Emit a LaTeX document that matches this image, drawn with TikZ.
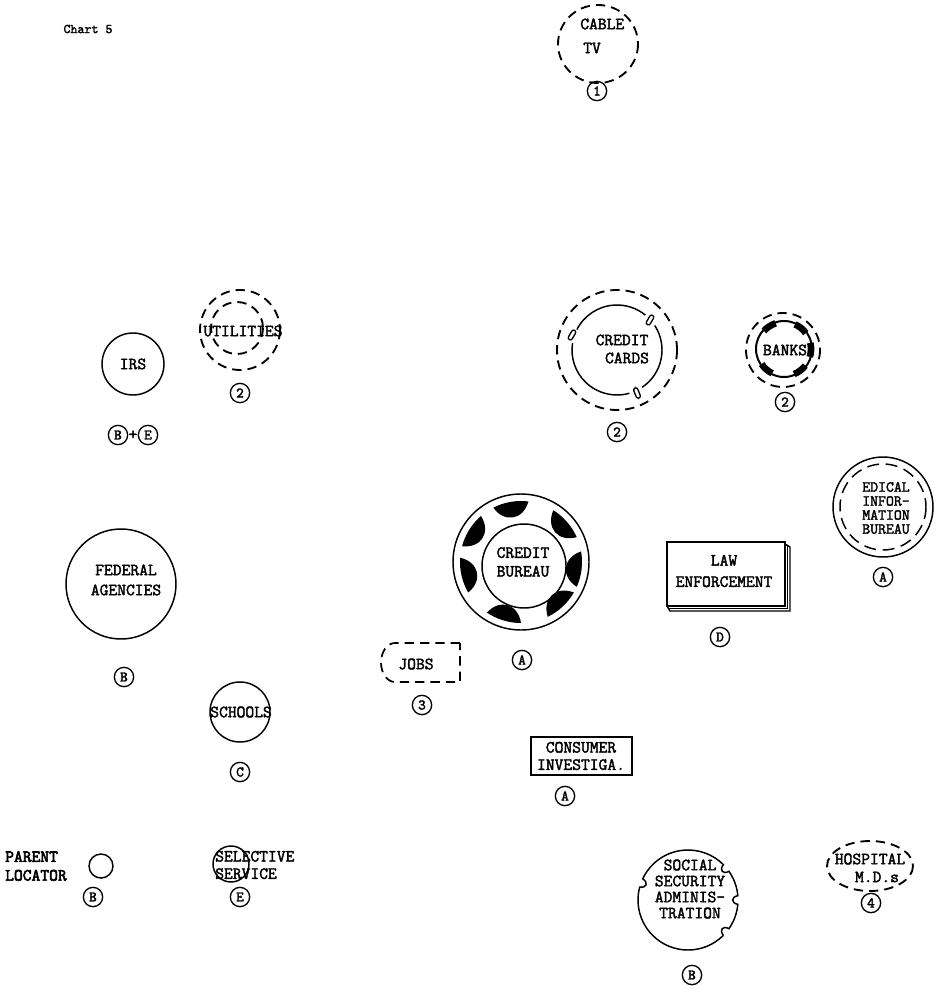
\documentclass[tikz,border=0pt]{standalone}
\usepackage{fontspec}
\newfontfamily\tw{Latin Modern Mono}[BoldFont={Latin Modern Mono}, BoldFeatures={FakeBold=2.2}]
\newfontfamily\twh{Latin Modern Mono}[BoldFont={Latin Modern Mono}, BoldFeatures={FakeBold=3.5}]
\begin{document}
\begin{tikzpicture}[x=0.75pt,y=-0.75pt,
  lbl/.style={font=\tw\bfseries\fontsize{12.8}{13}\selectfont, align=center, inner sep=0pt},
  small/.style={font=\tw\bfseries\fontsize{11.5}{10.5}\selectfont, align=center, inner sep=0pt},
  tag/.style={circle, draw, line width=1pt, minimum size=14.5pt, inner sep=0pt, font=\tw\bfseries\fontsize{11}{11}\selectfont},
  ring/.style={line width=1.1pt},
  dring/.style={line width=1.4pt, dash pattern=on 7pt off 4.5pt},
  pill/.style={draw, line width=1pt, rounded corners=1.6pt, minimum width=8pt, minimum height=3.2pt, inner sep=0pt},
]
\useasboundingbox (0,0) rectangle (937,998);
\fill[white] (0,0) rectangle (937,998);

% Chart title
\node[font=\tw\bfseries\fontsize{10}{10}\selectfont, inner sep=0pt] (chart) at (88,29) {Chart 5};

% Cable TV
\draw[dring] (598,44) ellipse [x radius=40, y radius=39];
\node[lbl, anchor=west] (cable) at (580,24) {CABLE};
\node[lbl, anchor=west] (tv) at (583,48) {TV};
\node[tag] (t1) at (597,91) {1};

% Utilities
\draw[dring] (240,330) circle [radius=40];
\draw[dring] (237,328) circle [radius=26];
\node[lbl] (util) at (243,331) {UTILITIES};
\node[tag] (t2a) at (240,393) {2};

% IRS
\draw[ring] (133,364) circle [radius=31];
\node[lbl] (irs) at (133,364) {IRS};
\node[tag] (tb1) at (118,435) {B};
\node[lbl] (plus) at (133,435) {+};
\node[tag] (te1) at (148,435) {E};

% Federal agencies
\draw[ring] (121,584) circle [radius=55];
\node[lbl] (fed) at (126,580) {FEDERAL\\[2pt]AGENCIES};
\node[tag] (tb2) at (124,677) {B};

% Schools
\draw[ring] (240,712) circle [radius=30];
\node[lbl] (schools) at (241,712) {SCHOOLS};
\node[tag] (tc) at (240,772) {C};

% Parent locator
\node[lbl, anchor=east, align=left, font=\twh\bfseries\fontsize{12.8}{14}\selectfont] (parent) at (67,866) {PARENT\\LOCATOR};
\draw[ring] (101,866) circle [radius=12];
\node[tag] (tb3) at (93,897) {B};

% Selective service
\draw[ring] (231,864) circle [radius=18];
\node[lbl, anchor=west, align=left] (sel) at (215,865) {SELECTIVE\\SERVICE};
\node[tag] (te2) at (240,897) {E};

% Credit cards
\draw[dring] (617,350) circle [radius=60];
\draw[ring] (617,350) ++(74:45) arc[start angle=74, end angle=189, radius=45];
\draw[ring] (617,350) ++(207:45) arc[start angle=207, end angle=309, radius=45];
\draw[ring] (617,350) ++(327:45) arc[start angle=327, end angle=416, radius=45];
\node[pill, rotate=60] (p1) at (572,335) {};
\node[pill, rotate=60] (p2) at (650,320) {};
\node[pill, rotate=-68] (p3) at (637,393) {};
\node[lbl] (cc1) at (622,340) {CREDIT};
\node[lbl] (cc2) at (627,358) {CARDS};
\node[tag] (t2b) at (617,432) {2};

% Banks
\draw[dring] (783,350) circle [radius=37];
\draw[line width=1.5pt] (784,349) circle [radius=28];
\foreach \a in {-123,-51,53,131,2} {
  \draw[line width=5pt] (784,349) ++(\a-15:27) arc[start angle=\a-15, end angle=\a+15, radius=27];
}
\node[lbl] (banks) at (785,350) {BANKS};
\node[tag] (t2c) at (785,402) {2};

% Medical Information Bureau
\draw[ring] (883,507) circle [radius=50];
\draw[line width=1.1pt, dash pattern=on 9pt off 5pt] (883,507) circle [radius=43];
\node[small] (mib) at (886,508) {EDICAL\\INFOR-\\MATION\\BUREAU};
\node[tag] (ta1) at (883,577) {A};

% Credit bureau
\draw[ring] (521,562) circle [radius=68];
\draw[ring] (524,566) circle [radius=42];
\begin{scope}[shift={(521,562)}]
  \foreach \a in {-100,-148,-193,-253,-313,-353,-41} {
    \fill (\a-17:61) arc[start angle=\a-17, end angle=\a+17, radius=61]
      .. controls (\a+13:42) and (\a-13:42) .. cycle;
  }
\end{scope}
\node[lbl] (cb) at (523,562) {CREDIT\\[1pt]BUREAU};
\node[tag] (ta2) at (522,660) {A};

% Law enforcement
\draw[ring] (667,542) rectangle (785,606);
\draw[ring] (785,544) -- (790,547) -- (790,611) -- (670,611) -- (667,606);
\draw[line width=0.6pt] (787,546) -- (787,608) -- (669,608);
\node[lbl] (law) at (724,571) {LAW\\[3pt]ENFORCEMENT};
\node[tag] (td) at (720,637) {D};

% Jobs
\draw[dring, line width=1.3pt] (460,643) -- (395,643)
  arc[start angle=270, end angle=90, x radius=14, y radius=19.5] -- (460,682) -- cycle;
\node[lbl] (jobs) at (416,664) {JOBS};
\node[tag] (t3) at (422,705) {3};

% Consumer investigations
\draw[line width=1.3pt] (531,737) rectangle (632,775);
\node[lbl] (cons) at (581,756) {CONSUMER\\INVESTIGA.};
\node[tag] (ta3) at (565,796) {A};

% Social Security Administration
\begin{scope}[shift={(688,900)}]
  \draw[ring] (45:50) arc[start angle=45, end angle=195, radius=50]
    .. controls (196:43) and (204:43) .. (205:50)
    arc[start angle=205, end angle=315, radius=50]
    .. controls (316:43) and (324:43) .. (325:50)
    arc[start angle=325, end angle=355, radius=50]
    .. controls (356:43) and (364:43) .. (365:50)
    arc[start angle=365, end angle=395, radius=50]
    .. controls (396:43) and (404:43) .. (405:50);
\end{scope}
\node[lbl] (ssa) at (690,889) {SOCIAL\\[-1pt]SECURITY\\[-1pt]ADMINIS-\\[-1pt]TRATION};
\node[tag] (tb4) at (692,975) {B};

% Hospital M.D.s
\draw[dring] (870,866) ellipse [x radius=43, y radius=25];
\node[lbl] (hosp) at (870,859) {HOSPITAL};
\node[lbl] (mds) at (877,877) {M.D.s};
\node[tag] (t4) at (871,903) {4};
\end{tikzpicture}
\end{document}
